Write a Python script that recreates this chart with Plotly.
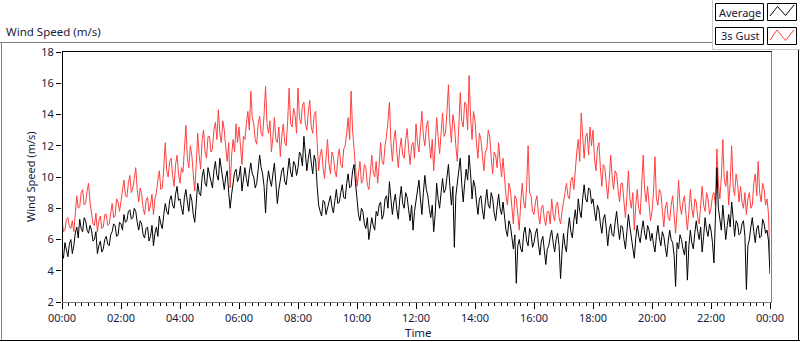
import plotly.graph_objects as go

# ---- data: 3-minute samples, 00:00 .. 24:00 ----
minutes = list(range(0, 1441, 3))

average = [
    5.2, 4.8, 5.8, 5.3, 4.9, 5.7, 6.0, 5.1, 5.6, 6.4, 6.8, 6.1, 7.3, 6.7, 6.5, 7.4, 7.2, 6.6, 6.4, 6.9,       # 00
    6.6, 5.9, 6.0, 6.5, 5.1, 5.6, 5.9, 5.2, 5.4, 6.0, 6.2, 5.7, 5.6, 6.3, 6.5, 7.0, 6.9, 6.2, 6.3, 7.1,       # 01
    7.0, 6.6, 7.6, 7.1, 7.2, 7.8, 7.9, 7.3, 7.4, 8.0, 7.8, 7.1, 6.6, 7.2, 7.0, 6.3, 6.1, 6.7, 6.8, 5.9,       # 02
    6.2, 6.9, 5.6, 6.4, 6.8, 6.2, 7.5, 7.0, 6.7, 7.6, 8.3, 7.8, 7.6, 8.5, 8.8, 8.2, 8.0, 8.9, 9.4, 8.5,       # 03
    8.6, 8.0, 7.6, 8.7, 9.2, 8.4, 7.8, 8.9, 8.5, 7.6, 7.1, 8.3, 9.6, 9.0, 8.8, 10.0, 10.5, 9.6, 9.4, 10.6,    # 04
    10.2, 9.6, 9.3, 10.4, 11.0, 10.1, 9.8, 11.2, 10.6, 9.9, 9.2, 10.0, 10.4, 9.0, 8.0, 8.9, 9.6, 10.3, 10.5, 9.7,  # 05
    10.0, 10.7, 9.1, 9.8, 10.6, 9.9, 9.4, 10.3, 10.9, 10.2, 10.0, 9.3, 9.6, 10.5, 11.4, 10.6, 10.2, 9.4, 7.7, 9.6, # 06
    10.4, 9.8, 9.4, 10.2, 10.9, 9.6, 8.3, 9.2, 9.8, 10.4, 10.6, 9.7, 9.5, 10.6, 11.2, 10.3, 10.0, 11.0, 10.8, 10.1, # 07
    10.6, 11.6, 11.4, 10.7, 12.6, 11.5, 10.4, 11.2, 11.8, 10.9, 10.2, 11.4, 11.0, 9.4, 8.2, 7.8, 7.5, 8.5, 8.4, 7.6, # 08
    8.0, 8.6, 8.8, 8.1, 7.7, 8.5, 9.2, 8.3, 8.4, 9.0, 9.5, 8.7, 8.6, 9.6, 10.2, 9.3, 9.4, 10.4, 10.8, 9.6,    # 09
    8.3, 7.6, 7.2, 8.0, 7.8, 7.0, 6.7, 7.4, 6.0, 6.8, 7.4, 6.9, 6.6, 7.8, 7.5, 8.2, 8.4, 7.3, 7.6, 8.6,       # 10
    8.8, 8.0, 9.7, 8.6, 7.6, 8.4, 8.9, 7.9, 7.3, 8.6, 9.4, 8.3, 8.0, 9.0, 8.7, 7.9, 7.2, 8.2, 6.6, 7.8,       # 11
    8.4, 9.2, 9.8, 8.6, 7.6, 9.0, 10.1, 9.2, 8.8, 8.0, 7.4, 8.2, 6.5, 7.6, 9.6, 8.6, 8.0, 9.0, 9.9, 9.0,      # 12
    9.2, 10.0, 10.8, 9.4, 8.2, 9.4, 5.5, 8.8, 9.6, 10.4, 11.2, 9.6, 8.4, 9.6, 10.5, 9.8, 11.4, 10.2, 8.6, 9.8, # 13
    9.4, 8.4, 7.6, 8.6, 8.8, 7.9, 7.3, 8.4, 9.2, 8.2, 8.0, 9.0, 8.6, 7.7, 7.2, 8.1, 8.9, 8.0, 7.6, 8.4,       # 14
    7.4, 6.6, 6.2, 7.2, 6.9, 6.0, 5.4, 6.3, 3.2, 5.6, 6.0, 5.4, 5.2, 6.4, 6.8, 5.9, 5.6, 6.7, 6.4, 5.5,       # 15
    5.8, 6.4, 6.7, 5.7, 5.0, 5.9, 6.2, 5.3, 4.4, 5.4, 5.6, 6.2, 6.6, 5.8, 5.2, 6.0, 6.4, 5.6, 3.5, 5.2,       # 16
    6.4, 5.6, 5.2, 6.6, 7.4, 6.5, 6.1, 7.2, 7.9, 7.0, 8.6, 7.8, 7.4, 8.6, 9.5, 8.6, 8.4, 9.3, 9.2, 8.3,       # 17
    8.6, 7.8, 7.2, 8.2, 7.9, 7.0, 6.4, 7.3, 7.6, 6.7, 5.6, 6.6, 7.0, 6.3, 6.2, 7.1, 7.8, 6.8, 6.0, 6.9,       # 18
    6.8, 6.0, 5.4, 6.5, 7.6, 6.8, 6.2, 5.6, 4.8, 6.1, 6.9, 6.2, 5.8, 6.6, 7.2, 6.4, 6.0, 6.9, 6.6, 5.9,       # 19
    6.4, 5.7, 5.2, 6.2, 6.9, 6.1, 5.6, 6.5, 6.2, 5.5, 4.9, 5.9, 6.6, 6.0, 5.8, 5.0, 3.0, 5.8, 5.4, 6.3,       # 20
    6.0, 5.4, 5.0, 5.9, 3.4, 5.6, 6.6, 5.8, 5.4, 6.4, 7.2, 6.5, 6.0, 6.8, 5.2, 6.2, 7.4, 6.6, 6.2, 7.0,       # 21
    6.6, 5.8, 4.5, 7.4, 10.6, 8.0, 7.2, 6.6, 8.2, 7.1, 6.0, 6.9, 7.6, 6.8, 8.4, 7.4, 6.2, 7.2, 7.0, 6.3,      # 22
    6.4, 7.0, 7.2, 6.2, 2.8, 5.6, 6.0, 6.8, 7.4, 6.5, 5.8, 6.7, 6.9, 6.1, 6.2, 7.3, 7.0, 6.4, 6.6, 5.9,       # 23
    3.8,
]

gust = [
    7.2, 6.5, 6.6, 7.3, 7.4, 6.8, 6.7, 7.2, 6.5, 7.6, 8.8, 8.0, 8.1, 9.0, 9.2, 8.2, 8.3, 9.1, 9.6, 8.4,       # 00
    7.8, 7.0, 6.9, 7.7, 6.5, 7.2, 7.5, 6.7, 6.8, 7.6, 7.6, 6.9, 7.0, 7.8, 8.3, 7.4, 7.5, 8.6, 8.4, 7.8,       # 01
    8.6, 9.4, 9.8, 8.8, 8.7, 9.6, 10.1, 9.0, 9.3, 9.9, 10.6, 9.2, 8.4, 9.3, 8.9, 8.0, 7.6, 8.5, 8.7, 7.8,     # 02
    8.2, 8.9, 7.6, 8.6, 9.0, 9.8, 10.4, 9.2, 9.3, 10.6, 12.2, 10.4, 10.0, 11.0, 11.2, 10.1, 9.4, 10.8, 11.4, 10.2, # 03
    9.6, 10.6, 10.3, 11.8, 13.3, 11.2, 10.6, 12.0, 11.4, 10.2, 9.1, 10.8, 12.8, 11.4, 10.5, 12.4, 13.0, 11.6, 11.2, 12.6, # 04
    12.6, 11.6, 11.8, 13.0, 13.5, 12.4, 14.3, 12.8, 12.2, 13.6, 13.0, 11.9, 11.0, 12.2, 9.3, 11.4, 12.4, 11.6, 13.4, 12.2, # 05
    13.2, 12.0, 10.8, 12.6, 12.4, 13.4, 14.2, 13.0, 15.5, 13.8, 13.4, 12.4, 12.1, 13.4, 13.9, 12.8, 12.6, 14.0, 15.8, 13.4, # 06
    12.8, 13.6, 11.6, 12.6, 13.8, 12.4, 12.2, 13.2, 11.3, 12.6, 13.4, 12.2, 12.0, 13.6, 15.7, 13.4, 13.2, 14.4, 14.0, 12.8, # 07
    15.7, 13.8, 13.4, 14.6, 14.8, 13.4, 13.0, 14.2, 14.9, 13.2, 12.8, 14.0, 14.2, 12.2, 10.4, 11.4, 11.8, 10.6, 9.9, 11.2, # 08
    12.4, 10.8, 10.2, 11.6, 11.3, 10.4, 10.0, 11.2, 11.8, 10.8, 10.6, 11.8, 12.0, 12.8, 13.8, 12.4, 15.5, 13.0, 12.0, 10.6, # 09
    9.4, 10.4, 11.0, 9.6, 9.8, 10.8, 10.6, 9.5, 9.2, 10.2, 11.4, 10.3, 10.0, 11.0, 9.6, 10.8, 12.2, 11.0, 10.8, 12.0, # 10
    12.6, 13.6, 14.8, 12.2, 11.0, 12.4, 13.0, 11.6, 10.6, 11.8, 12.5, 11.4, 11.2, 12.4, 13.1, 11.8, 10.8, 12.0, 12.2, 11.2, # 11
    13.4, 12.2, 11.6, 13.0, 14.2, 12.6, 12.0, 13.2, 13.6, 12.2, 11.2, 12.4, 10.4, 12.0, 13.8, 12.6, 11.5, 12.8, 14.1, 12.6, # 12
    12.8, 14.2, 15.9, 13.4, 12.2, 14.0, 13.4, 12.0, 11.0, 13.2, 15.4, 13.6, 13.2, 14.8, 14.6, 13.0, 16.5, 13.8, 12.4, 14.2, # 13
    13.6, 12.2, 11.2, 12.8, 12.4, 11.4, 10.4, 11.6, 11.8, 13.0, 12.6, 11.2, 10.2, 11.6, 11.4, 10.6, 12.2, 11.0, 10.0, 11.2, # 14
    9.8, 8.8, 8.2, 9.6, 9.2, 8.0, 7.0, 8.8, 8.6, 7.6, 6.6, 8.4, 9.6, 8.4, 8.0, 9.4, 12.0, 9.0, 8.8, 7.8,      # 15
    7.6, 8.4, 8.8, 7.6, 7.0, 8.0, 8.2, 7.3, 6.9, 7.8, 7.8, 7.0, 8.6, 7.6, 7.2, 8.2, 8.4, 7.4, 7.0, 7.8,      # 16
    8.4, 9.2, 9.6, 8.8, 8.6, 9.8, 10.0, 9.2, 10.8, 11.6, 12.4, 11.0, 14.1, 12.2, 11.2, 12.6, 12.8, 11.4, 13.2, 12.0, # 17
    13.0, 11.2, 10.4, 11.8, 12.2, 10.6, 9.4, 10.8, 10.6, 9.6, 8.6, 9.8, 11.4, 10.0, 9.2, 10.4, 10.2, 9.2, 8.4, 9.6, # 18
    9.6, 8.4, 7.4, 8.8, 10.4, 8.6, 8.0, 9.0, 6.6, 8.2, 9.2, 8.0, 7.6, 9.4, 11.4, 9.2, 8.4, 9.4, 8.0, 7.2,     # 19
    7.8, 9.0, 11.3, 8.6, 8.2, 9.2, 9.0, 7.6, 6.8, 8.0, 8.4, 7.4, 7.2, 8.2, 8.8, 7.6, 6.4, 7.8, 9.8, 8.2,     # 20
    7.6, 8.4, 8.8, 7.6, 6.6, 7.8, 9.2, 8.0, 7.4, 8.6, 8.4, 7.4, 7.0, 8.2, 9.4, 8.2, 7.8, 9.0, 8.6, 7.6,     # 21
    8.0, 8.8, 9.0, 8.2, 11.8, 9.6, 8.6, 10.0, 12.4, 9.8, 9.4, 10.4, 8.2, 9.6, 12.0, 9.4, 8.8, 10.2, 9.6, 8.4, # 22
    9.4, 8.4, 8.0, 9.0, 7.6, 8.6, 9.0, 8.0, 8.2, 9.6, 10.2, 8.8, 11.0, 9.0, 8.4, 9.6, 9.2, 8.2, 8.6, 7.6,    # 23
    4.8,
]

x_tickvals = [0, 120, 240, 360, 480, 600, 720, 840, 960, 1080, 1200, 1320, 1440]
x_ticktext = ["00:00", "02:00", "04:00", "06:00", "08:00", "10:00", "12:00",
              "14:00", "16:00", "18:00", "20:00", "22:00", "00:00"]
y_tickvals = [2, 4, 6, 8, 10, 12, 14, 16, 18]
legend_labels = ["Average", "3s Gust"]
series_colors = ["#000000", "#ff4040"]

# ---- layout geometry (pixels) ----
W, H = 800, 342
L, R, T, B = 62, 30, 52, 40
PW, PH = W - L - R, H - T - B


def px(x):
    return (x - L) / PW


def py(y):
    return (H - B - y) / PH


FONT = "Noto Sans"
TXT = "#1a1a3a"

fig = go.Figure()
fig.add_trace(go.Scatter(x=minutes, y=gust, mode="lines", name=legend_labels[1],
                         line=dict(color=series_colors[1], width=1), showlegend=False))
fig.add_trace(go.Scatter(x=minutes, y=average, mode="lines", name=legend_labels[0],
                         line=dict(color=series_colors[0], width=1), showlegend=False))

shapes = []


def line(x0, y0, x1, y1, color, width=1):
    shapes.append(dict(type="line", xref="paper", yref="paper",
                       x0=px(x0), y0=py(y0), x1=px(x1), y1=py(y1),
                       line=dict(color=color, width=width), layer="above"))


def rect(x0, y0, x1, y1, color, fill=None):
    shapes.append(dict(type="rect", xref="paper", yref="paper",
                       x0=px(x0), y0=py(y0), x1=px(x1), y1=py(y1),
                       line=dict(color=color, width=1),
                       fillcolor=fill if fill else "rgba(0,0,0,0)", layer="above"))


# outer frame
line(0, 42.5, 712, 42.5, "#808080")
line(1.5, 42.5, 1.5, 341, "#808080")
line(0, 340.5, 800, 340.5, "#000000")
line(798.5, 50, 798.5, 341, "#000000")
# legend panel edges
line(712.5, 0, 712.5, 49.5, "#c8c8c8")
line(712.5, 49.5, 800, 49.5, "#c8c8c8")
# plot area border
line(62, 51.5, 772, 51.5, "#000000")
line(62.5, 51.5, 62.5, 302, "#000000")
line(771.5, 51.5, 771.5, 302.5, "#808080")
line(62, 302.5, 772, 302.5, "#808080")

annotations = []
# legend boxes
legend_rows = [(3.5, 20.5), (27.5, 44.5)]
icon_pts = [
    [(770, 16), (777.5, 6.5), (785.5, 15.5), (794, 5)],
    [(770, 40), (777, 30), (785.5, 40.5), (794, 30)],
]
for i, (y0, y1) in enumerate(legend_rows):
    rect(715.5, y0, 763.5, y1, "#000000", "#ffffff")
    rect(767.5, y0, 796.5, y1, "#000000", "#ffffff")
    pts = icon_pts[i]
    for (xa, ya), (xb, yb) in zip(pts[:-1], pts[1:]):
        line(xa, ya, xb, yb, series_colors[i])
    annotations.append(dict(x=px(739.5), y=py((y0 + y1) / 2), xref="paper", yref="paper",
                            text=legend_labels[i], showarrow=False,
                            font=dict(family=FONT, size=11, color=TXT),
                            xanchor="center", yanchor="middle"))

# chart title
annotations.append(dict(x=px(4), y=py(32), xref="paper", yref="paper",
                        text="Wind Speed (m/s)", showarrow=False,
                        font=dict(family=FONT, size=11.5, color=TXT),
                        xanchor="left", yanchor="middle"))
# axis titles
annotations.append(dict(x=px(30), y=py(177), xref="paper", yref="paper",
                        text="Wind Speed (m/s)", showarrow=False, textangle=-90,
                        font=dict(family=FONT, size=11, color=TXT),
                        xanchor="center", yanchor="middle"))
annotations.append(dict(x=px(418), y=py(332), xref="paper", yref="paper",
                        text="Time", showarrow=False,
                        font=dict(family=FONT, size=11.5, color=TXT),
                        xanchor="center", yanchor="middle"))

fig.update_layout(
    width=W, height=H,
    margin=dict(l=L, r=R, t=T, b=B, pad=0),
    paper_bgcolor="white", plot_bgcolor="white",
    font=dict(family=FONT, size=11, color=TXT),
    shapes=shapes, annotations=annotations, showlegend=False,
    xaxis=dict(range=[0, 1440], tickmode="array", tickvals=x_tickvals, ticktext=x_ticktext,
               ticks="outside", ticklen=6, tickcolor="#000000", tickwidth=1,
               minor=dict(dtick=120 / 9, tick0=0, ticks="outside", ticklen=3,
                          tickcolor="#000000", tickwidth=1, showgrid=False),
               showgrid=False, zeroline=False, showline=False, automargin=False,
               tickfont=dict(family=FONT, size=11, color=TXT)),
    yaxis=dict(range=[2, 18], tickmode="array", tickvals=y_tickvals,
               ticks="outside", ticklen=5, tickcolor="#000000", tickwidth=1,
               showgrid=False, zeroline=False, showline=False, automargin=False,
               tickfont=dict(family=FONT, size=11, color=TXT)),
)

fig.write_html("out.html", config={"displayModeBar": False},
               post_script="document.body.style.margin='0';document.body.style.overflow='hidden';")
